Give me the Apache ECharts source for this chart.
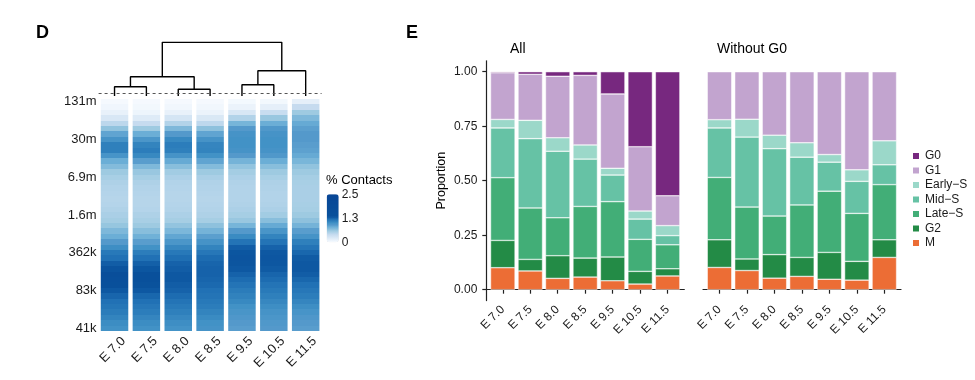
<!DOCTYPE html>
<html><head><meta charset="utf-8">
<script src="https://cdn.jsdelivr.net/npm/echarts@6/dist/echarts.min.js"></script>
<style>html,body{margin:0;padding:0;background:#fff}#c{width:975px;height:380px}</style>
</head><body><div id="c"></div>
<script>
// ---------- data ----------
const stages = ['E 7.0','E 7.5','E 8.0','E 8.5','E 9.5','E 10.5','E 11.5'];
const distanceTicks = ['131m','30m','6.9m','1.6m','362k','83k','41k'];
const rowsPerTick = 7;

// % contacts per distance bin (top = far, bottom = near), one array per stage
const contactsE70  = [0.02,0.06,0.12,0.25,0.45,0.65,0.85,0.98,1.10,1.10,0.97,0.80,0.70,0.60,0.55,0.52,0.50,0.49,0.48,0.49,0.51,0.54,0.57,0.63,0.72,0.80,0.90,1.02,1.15,1.20,1.28,1.36,1.60,1.55,1.40,1.30,1.25,1.20,1.17,1.13,1.08,1.03,1.00];
const contactsE75  = [0.02,0.04,0.08,0.20,0.40,0.60,0.80,0.95,1.08,1.12,1.05,0.88,0.72,0.62,0.56,0.52,0.50,0.49,0.48,0.48,0.49,0.52,0.55,0.60,0.68,0.78,0.88,1.00,1.12,1.20,1.27,1.33,1.42,1.45,1.38,1.30,1.24,1.20,1.16,1.12,1.07,1.03,1.00];
const contactsE80  = [0.02,0.05,0.12,0.28,0.50,0.72,0.90,1.05,1.12,1.10,0.98,0.82,0.68,0.58,0.53,0.50,0.49,0.48,0.48,0.49,0.50,0.53,0.56,0.64,0.73,0.84,0.95,1.06,1.15,1.21,1.26,1.28,1.30,1.30,1.28,1.26,1.22,1.18,1.14,1.10,1.06,1.02,0.99];
const contactsE85  = [0.02,0.05,0.10,0.24,0.44,0.66,0.85,0.98,1.07,1.08,1.00,0.85,0.70,0.60,0.54,0.51,0.50,0.49,0.48,0.49,0.50,0.52,0.56,0.66,0.76,0.87,0.98,1.08,1.16,1.22,1.25,1.26,1.26,1.25,1.23,1.20,1.18,1.15,1.12,1.08,1.04,1.00,0.98];
const contactsE95  = [0.03,0.10,0.25,0.50,0.75,0.90,0.98,1.00,1.00,0.98,0.90,0.76,0.64,0.57,0.53,0.51,0.50,0.50,0.50,0.51,0.53,0.56,0.62,0.75,0.90,1.04,1.18,1.28,1.33,1.35,1.34,1.30,1.26,1.22,1.18,1.13,1.09,1.05,1.00,0.96,0.93,0.90,0.88];
const contactsE105 = [0.04,0.15,0.38,0.62,0.80,0.92,0.98,1.00,1.00,0.98,0.92,0.80,0.68,0.60,0.55,0.52,0.51,0.50,0.50,0.51,0.53,0.58,0.68,0.82,0.96,1.08,1.18,1.26,1.30,1.32,1.31,1.29,1.25,1.22,1.18,1.14,1.10,1.06,1.02,0.98,0.95,0.92,0.90];
const contactsE115 = [0.15,0.40,0.60,0.72,0.82,0.87,0.90,0.90,0.88,0.86,0.82,0.74,0.65,0.60,0.56,0.55,0.54,0.54,0.54,0.55,0.56,0.60,0.66,0.76,0.88,0.98,1.10,1.18,1.24,1.29,1.30,1.30,1.28,1.24,1.20,1.16,1.12,1.07,1.02,0.97,0.93,0.90,0.88];
const contactsByStage = [contactsE70,contactsE75,contactsE80,contactsE85,contactsE95,contactsE105,contactsE115];
const contactScaleTicks = [0, 1.25, 2.5];

// dendrogram (hclust style: negative = leaf number, positive = earlier merge)
const dendroMerge  = [[-1,-2],[-3,-4],[1,2],[-5,-6],[4,-7],[3,5]];
const dendroHeight = [9.3, 6.7, 19.3, 11.3, 25.3, 53.7];
const dendroCut = 2.3;

// cell-cycle proportions
const phases = ['G0','G1','Early\u2212S','Mid\u2212S','Late\u2212S','G2','M'];
const proportionTicks = [0, 0.25, 0.5, 0.75, 1];
const allG0     = [0.005,0.012,0.021,0.017,0.102,0.344,0.569];
const allG1     = [0.214,0.211,0.282,0.319,0.341,0.295,0.137];
const allEarlyS = [0.039,0.084,0.062,0.065,0.031,0.037,0.046];
const allMidS   = [0.228,0.318,0.305,0.217,0.122,0.093,0.042];
const allLateS  = [0.288,0.236,0.174,0.237,0.254,0.147,0.110];
const allG2     = [0.125,0.053,0.104,0.087,0.109,0.058,0.033];
const allM      = [0.101,0.086,0.052,0.058,0.041,0.026,0.063];
const noG0G1     = [0.220,0.218,0.291,0.326,0.380,0.450,0.317];
const noG0EarlyS = [0.038,0.082,0.062,0.066,0.035,0.053,0.110];
const noG0MidS   = [0.227,0.321,0.309,0.219,0.133,0.147,0.091];
const noG0LateS  = [0.286,0.238,0.177,0.241,0.281,0.220,0.253];
const noG0G2     = [0.127,0.053,0.108,0.087,0.123,0.086,0.081];
const noG0M      = [0.102,0.088,0.053,0.061,0.048,0.044,0.148];

// ---------- styles ----------
const FONT = 'Liberation Sans, Arial, Helvetica, sans-serif';
const TXT = '#1a1a1a';
const phaseColor = {'G0':'#77287f','G1':'#c2a4cf','Early\u2212S':'#9bd8c9','Mid\u2212S':'#66c2a5','Late\u2212S':'#42ae77','G2':'#238b46','M':'#ec6d35'};
const blues = ['#f7fbff','#ebf3fb','#deebf7','#d2e3f3','#c6dbef','#b2d3e9','#9ecae1','#83bbdb','#6baed6','#5499cb','#4292c6','#2f80bc','#2171b5','#0e58a2',
  '#09509b','#09509b','#094e9a','#094e9a','#084c99','#084c99','#084a98','#084a98','#084897','#084897','#084797','#084797'];

// ---------- build ----------
const heatData = [];
contactsByStage.forEach((col, c) => col.forEach((v, r) => heatData.push([c, r, v])));
const rowNames = contactsE70.map((_, r) => (r % rowsPerTick === 0 ? distanceTicks[r / rowsPerTick] : ''));

// dendrogram segments
const nodeX = [], nodeH = [];
function childPos(m) { return m < 0 ? [-m - 1, 0] : [nodeX[m - 1], nodeH[m - 1]]; }
const dendroSeries = dendroMerge.map((pair, k) => {
  const a = childPos(pair[0]), b = childPos(pair[1]), h = dendroHeight[k];
  nodeX[k] = (a[0] + b[0]) / 2; nodeH[k] = h;
  const s = {
    type: 'line', xAxisIndex: 0, yAxisIndex: 0, silent: true, symbol: 'none',
    lineStyle: { color: '#000', width: 1.4 }, z: 3,
    data: [[a[0], a[1]], [a[0], h], [b[0], h], [b[0], b[1]]]
  };
  if (k === 0) s.markLine = { silent: true, symbol: 'none', label: { show: false },
    lineStyle: { color: '#555', width: 1, type: [3, 3] }, data: [{ yAxis: dendroCut }] };
  return s;
});

function barSeries(name, vals, axis, stack) {
  return { type: 'bar', name, stack, xAxisIndex: axis, yAxisIndex: axis, barWidth: 24.5,
    data: vals, silent: true,
    itemStyle: { color: phaseColor[name], borderColor: '#fff', borderWidth: 0.5 } };
}
const allSeries = [['M',allM],['G2',allG2],['Late\u2212S',allLateS],['Mid\u2212S',allMidS],['Early\u2212S',allEarlyS],['G1',allG1],['G0',allG0]]
  .map(([n, v]) => barSeries(n, v, 3, 'all'));
const noG0Series = [['M',noG0M],['G2',noG0G2],['Late\u2212S',noG0LateS],['Mid\u2212S',noG0MidS],['Early\u2212S',noG0EarlyS],['G1',noG0G1]]
  .map(([n, v]) => barSeries(n, v, 4, 'nog0'));

const heatSeries = {
  type: 'custom', xAxisIndex: 1, yAxisIndex: 1, data: heatData, encode: { x: 0, y: 1 }, silent: true,
  renderItem: (params, api) => {
    const p = api.coord([api.value(0), api.value(1)]);
    const s = api.size([1, 1]);
    const w = s[0] * 0.863;
    const y0 = Math.round(p[1] - s[1] / 2), y1 = Math.round(p[1] + s[1] / 2);
    return { type: 'rect', shape: { x: p[0] - w / 2, y: y0, width: w, height: y1 - y0 },
      style: { fill: api.visual('color') } };
  }
};
const series = [heatSeries, ...dendroSeries, ...allSeries, ...noG0Series];

const axisLineStyle = { color: '#222', width: 1.2 };
const hidden = (g, type) => ({ gridIndex: g, type: type || 'value', show: false });
const gridBase = { outerBoundsMode: 'none', containLabel: false };
const barXAxis = g => ({ gridIndex: g, type: 'category', data: stages, boundaryGap: true,
  axisLine: { show: false }, splitLine: { show: false },
  axisTick: { show: true, alignWithLabel: true, length: 4, lineStyle: axisLineStyle },
  axisLabel: { interval: 0, rotate: 45, fontSize: 12, color: TXT, margin: 7 } });
const frameXAxis = g => ({ gridIndex: g, type: 'value', min: 0, max: 1, splitLine: { show: false },
  axisLine: { show: true, lineStyle: axisLineStyle }, axisTick: { show: false }, axisLabel: { show: false } });

const option = {
  animation: false,
  textStyle: { fontFamily: FONT },
  title: [
    { text: 'D', left: 36, top: 24, padding: 0, textStyle: { fontSize: 18, fontWeight: 'bold', color: '#000', fontFamily: FONT } },
    { text: 'E', left: 406, top: 24, padding: 0, textStyle: { fontSize: 18, fontWeight: 'bold', color: '#000', fontFamily: FONT } },
    { text: 'All', left: 510, top: 42, padding: 0, textStyle: { fontSize: 14, fontWeight: 'normal', color: '#000', fontFamily: FONT } },
    { text: 'Without G0', left: 717, top: 42, padding: 0, textStyle: { fontSize: 14, fontWeight: 'normal', color: '#000', fontFamily: FONT } },
    { text: '% Contacts', left: 326, top: 174, padding: 0, textStyle: { fontSize: 13, fontWeight: 'normal', color: '#000', fontFamily: FONT } }
  ],
  grid: [
    Object.assign({ left: 98.6, top: 42.3, width: 223, height: 53.7 }, gridBase),
    Object.assign({ left: 98.6, top: 99, width: 223, height: 232 }, gridBase),
    Object.assign({ left: 107.6, top: 99, width: 223, height: 232 }, gridBase),
    Object.assign({ left: 489.06, top: 60.8, width: 192.3, height: 239.8 }, gridBase),
    Object.assign({ left: 705.76, top: 60.8, width: 192.3, height: 239.8 }, gridBase),
    Object.assign({ left: 326.7, top: 194.3, width: 12, height: 48 }, gridBase),
    Object.assign({ left: 486.3, top: 60.8, width: 198, height: 239.8 }, gridBase),
    Object.assign({ left: 703, top: 60.8, width: 198, height: 239.8 }, gridBase)
  ],
  xAxis: [
    { gridIndex: 0, type: 'value', min: -0.5, max: 6.5, show: false },
    { gridIndex: 1, type: 'category', data: stages, boundaryGap: true, axisLine: { show: false }, axisTick: { show: false }, axisLabel: { show: false } },
    { gridIndex: 2, type: 'category', data: stages, boundaryGap: true, axisLine: { show: false }, axisTick: { show: false },
      axisLabel: { interval: 0, rotate: 45, fontSize: 13, color: TXT, margin: 8 } },
    barXAxis(3),
    barXAxis(4),
    hidden(5),
    frameXAxis(6),
    frameXAxis(7)
  ],
  yAxis: [
    { gridIndex: 0, type: 'value', min: 0, max: 53.7, show: false },
    { gridIndex: 1, type: 'category', data: rowNames, inverse: true, axisLine: { show: false }, axisTick: { show: false },
      axisLabel: { interval: 0, fontSize: 13, color: TXT, margin: 2 } },
    hidden(2),
    { gridIndex: 3, type: 'value', min: -0.05, max: 1.05, show: false },
    { gridIndex: 4, type: 'value', min: -0.05, max: 1.05, show: false },
    { gridIndex: 5, type: 'value', min: 0, max: 2.5, position: 'right', splitLine: { show: false }, axisLine: { show: false },
      axisTick: { show: true, inside: true, length: 3, lineStyle: { color: '#fff', width: 1.2 }, customValues: contactScaleTicks.slice(1) },
      axisLabel: { customValues: contactScaleTicks, formatter: v => (v === 0 ? '0' : v.toFixed(1)), fontSize: 12, color: TXT, margin: 3 } },
    { gridIndex: 5, type: 'value', min: 0, max: 2.5, position: 'left', splitLine: { show: false }, axisLine: { show: false },
      axisTick: { show: true, inside: true, length: 3, lineStyle: { color: '#fff', width: 1.2 }, customValues: contactScaleTicks.slice(1) },
      axisLabel: { show: false } },
    { gridIndex: 6, type: 'value', min: -0.05, max: 1.05, splitLine: { show: false },
      axisLine: { show: true, lineStyle: axisLineStyle },
      axisTick: { show: true, length: 4, lineStyle: axisLineStyle, customValues: proportionTicks },
      axisLabel: { customValues: proportionTicks, formatter: v => v.toFixed(2), fontSize: 12, color: TXT, margin: 9 },
      name: 'Proportion', nameLocation: 'middle', nameGap: 38, nameTextStyle: { fontSize: 12.5, color: '#000' } },
    { gridIndex: 7, type: 'value', min: -0.05, max: 1.05, show: false }
  ],
  visualMap: {
    type: 'continuous', seriesIndex: 0, dimension: 2, min: 0, max: 2.5, inRange: { color: blues },
    left: 326.7, top: 194.3, itemWidth: 12, itemHeight: 48, padding: 0, calculable: false, text: null, hoverLink: false, z: 1
  },
  legend: {
    data: phases, orient: 'vertical', left: 911, top: 150, itemWidth: 8, itemHeight: 8, itemGap: 2.5, icon: 'rect',
    selectedMode: false, padding: 0, textStyle: { fontSize: 12, color: TXT, fontFamily: FONT }
  },
  series
};
const chart = echarts.init(document.getElementById('c'), null, { renderer: 'canvas' });
chart.setOption(option);
</script></body></html>
